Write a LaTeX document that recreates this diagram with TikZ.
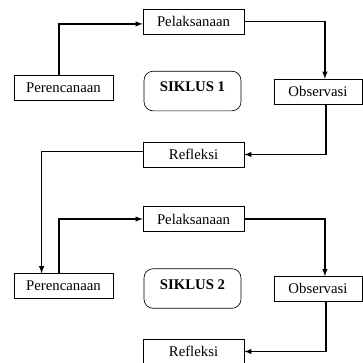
\documentclass[tikz,border=0pt]{standalone}
\usepackage{fontspec}
\setmainfont{Liberation Serif}
\tikzset{
  tahap/.style={draw=black,line width=0.6pt,minimum width=3.37cm,minimum height=0.83cm,inner sep=0pt,font=\fontsize{14}{16}\selectfont},
  siklus/.style={draw=black,line width=0.6pt,rounded corners=0.3cm,minimum width=3.23cm,minimum height=1.32cm,inner sep=0pt,text depth=0.27cm,font=\fontsize{14}{16}\selectfont\bfseries},
  alur/.style={-latex,line width=1.3pt}
}
\begin{document}
\begin{tikzpicture}
  \useasboundingbox (0,0) rectangle (12.1,12.067);
  \node (lak1) at (6.45,11.35) [tahap] {Pelaksanaan};
  \node (ren1) at (2.117,9.15) [tahap,minimum width=3.3cm] {Perencanaan};
  \node (sik1) at (6.417,9.033) [siklus] {SIKLUS 1};
  \node (obs1) at (10.6,9.017) [tahap,minimum width=2.93cm] {Observasi};
  \node (ref1) at (6.45,6.917) [tahap] {Refleksi};
  \node (lak2) at (6.45,4.767) [tahap] {Pelaksanaan};
  \node (ren2) at (2.117,2.533) [tahap,minimum width=3.3cm] {Perencanaan};
  \node (sik2) at (6.417,2.45) [siklus] {SIKLUS 2};
  \node (obs2) at (10.6,2.437) [tahap,minimum width=2.93cm] {Observasi};
  \node (ref2) at (6.45,0.35) [tahap] {Refleksi};
  \draw[alur] ([xshift=-0.15cm]ren1.north) |- ([yshift=-0.08cm]lak1.west);
  \draw[alur] (lak1.east) -| ([xshift=0.23cm]obs1.north);
  \draw[alur] ([xshift=0.27cm]obs1.south) |- (ref1.east);
  \draw[alur] ([yshift=0.1cm]ref1.west) -| ([xshift=-0.73cm]ren2.north);
  \draw[alur] ([xshift=-0.15cm]ren2.north) |- (lak2.west);
  \draw[alur] (lak2.east) -| ([xshift=0.23cm]obs2.north);
  \draw[alur] ([xshift=0.27cm]obs2.south) |- (ref2.east);
\end{tikzpicture}
\end{document}
